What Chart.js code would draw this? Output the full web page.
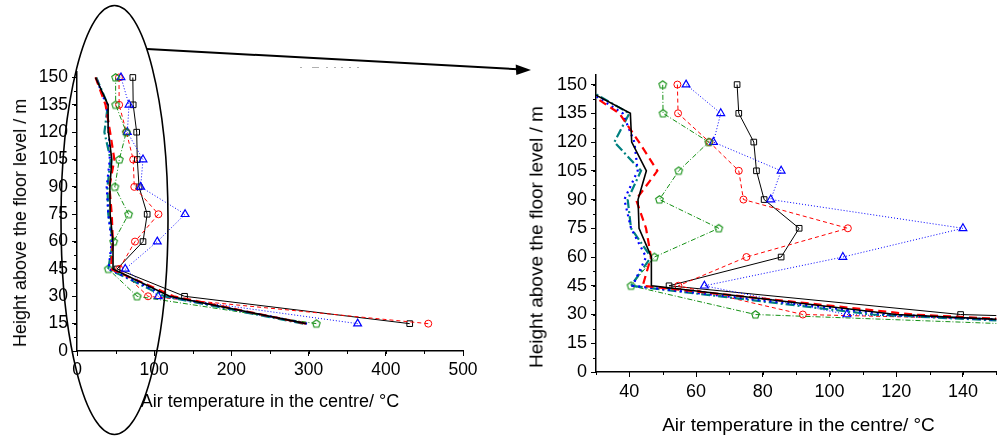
<!DOCTYPE html>
<html><head><meta charset="utf-8">
<script src="https://cdn.jsdelivr.net/npm/chart.js@4"></script>
<style>
body{margin:0;background:#fff;width:1002px;height:440px;overflow:hidden;position:relative;font-family:"Liberation Sans",Arial,sans-serif;}
#c1{position:absolute;left:0;top:0;width:520px;height:440px;}
#c2{position:absolute;left:520px;top:0;width:482px;height:440px;}
.t{position:absolute;white-space:nowrap;color:#000;line-height:1;}
svg{position:absolute;left:0;top:0;pointer-events:none}
</style></head><body>
<canvas id="c1" width="520" height="440"></canvas>
<canvas id="c2" width="482" height="440"></canvas>
<div class="t" style="left:19.5px;top:222.5px;font-size:18px;transform:translate(-50%,-50%) rotate(-90deg);">Height above the floor level / m</div>
<div class="t" style="left:270px;top:401px;font-size:18px;transform:translate(-50%,-50%);">Air temperature in the centre/ °C</div>
<div class="t" style="left:536px;top:237px;font-size:19px;transform:translate(-50%,-50%) rotate(-90deg);">Height above the floor level / m</div>
<div class="t" style="left:798.5px;top:424px;font-size:19px;transform:translate(-50%,-50%);">Air temperature in the centre/ °C</div>
<svg width="1002" height="440">
<ellipse cx="114.5" cy="220" rx="53.5" ry="214.5" fill="none" stroke="#000" stroke-width="1.6"/>
<line x1="147" y1="49" x2="518" y2="69.3" stroke="#000" stroke-width="2"/>
<polygon points="531,70 515.7,64.4 516.3,75" fill="#000"/>
<g fill="#b0b0b0">
<rect x="300" y="67" width="2" height="1"/><rect x="312" y="67" width="7" height="1"/>
<rect x="326" y="67" width="2" height="1"/><rect x="334" y="67" width="2" height="1"/>
<rect x="341" y="67" width="2" height="1"/><rect x="349" y="67" width="2" height="1"/>
<rect x="357" y="67" width="2" height="1"/>
</g>
</svg>
<script>
// ---- data ----
const heights   = [15, 30, 45, 60, 75, 90, 105, 120, 135, 150];
const sqBlack   = [431, 139.3, 51.9, 85.5, 90.9, 80.4, 78.1, 77.3, 72.8, 72.3];
const circRed   = [455, 92.0, 54.7, 75.1, 105.5, 74.2, 72.8, 64.0, 54.6, 54.4];
const triBlue   = [363.5, 105.2, 62.5, 104.0, 140.0, 82.4, 85.5, 65.2, 67.4, 57.0];
const pentGreen = [310, 77.8, 40.5, 47.5, 66.8, 49.0, 54.8, 63.8, 50.1, 50.0];
const lineBlack = [297, 120, 46.7, 46.6, 42.9, 42.6, 45.1, 40.7, 40.3, 24];
const lineRed   = [296, 125, 44, 46.5, 45, 42, 48.4, 42.9, 37, 24];
const lineBlue  = [298, 118, 41, 45, 40.5, 38.5, 42.5, 41.5, 38, 24.5];
const lineTeal  = [293, 113, 40.5, 46.5, 40.5, 39.5, 43.5, 35.5, 40, 25];

const yTickVals      = [0, 15, 30, 45, 60, 75, 90, 105, 120, 135, 150];
const xTickValsLeft  = [0, 100, 200, 300, 400, 500];
const xTickValsRight = [40, 60, 80, 100, 120, 140];

// pentagon marker
function pentagon(color){
  const c = document.createElement('canvas'); c.width = 11; c.height = 11;
  const g = c.getContext('2d'); g.strokeStyle = color; g.lineWidth = 1.1;
  g.beginPath();
  for (let i = 0; i < 5; i++) {
    const a = -Math.PI/2 + i*2*Math.PI/5;
    const x = 5.5 + 4*Math.cos(a), y = 5.8 + 4*Math.sin(a);
    i ? g.lineTo(x, y) : g.moveTo(x, y);
  }
  g.closePath(); g.stroke();
  return c;
}
const green = '#149014', teal = '#008080';
const pent = pentagon(green);

function mk(xs, st){ return Object.assign({data: xs.map((x,i)=>({x:x, y:heights[i]})), showLine:true, fill:false, tension:0}, st); }
function datasets(){
  const hollow = 'rgba(0,0,0,0)';
  return [
    mk(lineBlack, {borderColor:'#000', borderWidth:1.6, pointRadius:0}),
    mk(lineRed,   {borderColor:'#ff0000', borderWidth:2.2, borderDash:[8,5], pointRadius:0}),
    mk(lineBlue,  {borderColor:'#0000ff', borderWidth:2.2, borderDash:[2,4], pointRadius:0}),
    mk(lineTeal,  {borderColor:teal, borderWidth:2.2, borderDash:[9,3,2,3], pointRadius:0}),
    mk(pentGreen, {borderColor:green, borderWidth:1, borderDash:[5,2,1,2], pointStyle:pent, pointRadius:4}),
    mk(triBlue,   {borderColor:'#0000ff', borderWidth:1, borderDash:[1,2], pointStyle:'triangle', pointRadius:4.5, pointBorderColor:'#0000ff', pointBackgroundColor:hollow, pointBorderWidth:1.2}),
    mk(circRed,   {borderColor:'#ff0000', borderWidth:1, borderDash:[4,3], pointStyle:'circle', pointRadius:3.5, pointBorderColor:'#ff0000', pointBackgroundColor:hollow, pointBorderWidth:1}),
    mk(sqBlack,   {borderColor:'#000', borderWidth:1, pointStyle:'rect', pointRadius:4, pointBorderColor:'#000', pointBackgroundColor:hollow, pointBorderWidth:1})
  ];
}

const minorTicks = {
  id:'minorTicks',
  afterDraw(chart, args, opts){
    const ctx = chart.ctx; ctx.save(); ctx.strokeStyle = '#000'; ctx.lineWidth = 1;
    for (const id in opts.steps) {
      const s = chart.scales[id], step = opts.steps[id];
      for (let v = Math.ceil(s.min/step)*step; v <= s.max + 1e-9; v += step) {
        const p = Math.round(s.getPixelForValue(v)) + 0.5;
        ctx.beginPath();
        if (s.isHorizontal()) { ctx.moveTo(p, s.top); ctx.lineTo(p, s.top + opts.len); }
        else { ctx.moveTo(s.right, p); ctx.lineTo(s.right - opts.len, p); }
        ctx.stroke();
      }
    }
    ctx.restore();
  }
};

function axis(min, max, ticks, size, fitProp, fitVal, pad){
  return {
    type:'linear', min:min, max:max,
    border:{display:true, color:'#000', width:1.5},
    grid:{display:true, drawOnChartArea:false, drawTicks:true, tickLength:5, color:'#000', lineWidth:1},
    ticks:{color:'#000', font:{family:'Liberation Sans', size:size}, padding:pad, maxRotation:0, minRotation:0, autoSkip:false},
    afterBuildTicks: s => { s.ticks = ticks.map(v => ({value:v})); },
    afterFit: s => { s[fitProp] = fitVal; }
  };
}

Chart.register(minorTicks);

new Chart(document.getElementById('c1'), {
  type:'scatter',
  data:{datasets:datasets()},
  options:{
    responsive:false, animation:false,
    layout:{padding:{left:0, top:72, right:57, bottom:0}},
    plugins:{legend:{display:false}, tooltip:{enabled:false}, minorTicks:{steps:{x:50, y:7.5}, len:3}},
    scales:{
      x: axis(0, 500, xTickValsLeft, 17.5, 'height', 89, 4),
      y: axis(0, 153, yTickVals, 17.5, 'width', 77, 4)
    }
  }
});

new Chart(document.getElementById('c2'), {
  type:'scatter',
  data:{datasets:datasets()},
  options:{
    responsive:false, animation:false,
    layout:{padding:{left:0, top:75, right:0, bottom:0}},
    plugins:{legend:{display:false}, tooltip:{enabled:false}, minorTicks:{steps:{x:10, y:7.5}, len:3}},
    scales:{
      x: axis(30, 150, xTickValsRight, 18, 'height', 68, 4),
      y: axis(0, 155, yTickVals, 18, 'width', 76, 4)
    }
  }
});
</script>
</body></html>
